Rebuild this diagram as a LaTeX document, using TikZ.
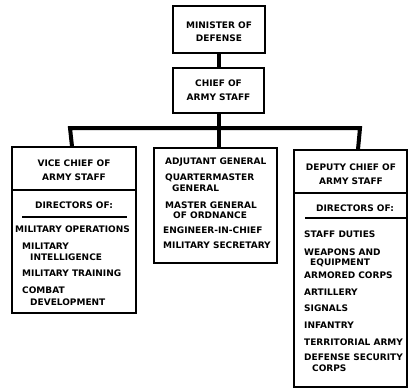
\documentclass[tikz,border=0pt]{standalone}
\usepackage{fontspec}
\setmainfont{DejaVu Sans}
\begin{document}
\begin{tikzpicture}[x=1pt,y=-1pt,
  box/.style={draw=black,line width=1.2pt,rectangle,inner sep=0pt},
  conn/.style={draw=black,line width=4pt},
  rule/.style={draw=black,line width=1.1pt},
  lbl/.style={font=\bfseries\fontsize{9}{10}\selectfont,inner sep=0pt,text=black},
  cl/.style={lbl,anchor=center},
  ll/.style={lbl,anchor=west}]
\useasboundingbox (0,0) rectangle (409,388);
% boxes
\node[box,minimum width=92pt,minimum height=47pt] (minister) at (219,29.5) {};
\node[box,minimum width=91pt,minimum height=45pt] (chief) at (218.5,90.5) {};
\node[box,minimum width=124pt,minimum height=166pt] (left) at (74,230) {};
\node[box,minimum width=123pt,minimum height=115pt] (mid) at (215.5,205.5) {};
\node[box,minimum width=113pt,minimum height=237pt] (right) at (350.5,268.5) {};
% connectors
\coordinate (barL) at (72,128);
\coordinate (barR) at (358,128);
\draw[conn] (minister.south) -- (minister.south |- chief.north);
\draw[conn] (chief.south) -- (chief.south |- mid.north);
\draw[conn] (left.north -| barL) -- ([xshift=-2pt]barL) -- ([xshift=2pt]barR) -- (right.north -| barR);
% dividers
\draw[box] (left.west |- 0,190) -- (left.east |- 0,190);
\draw[box] (right.west |- 0,193) -- (right.east |- 0,193);
\draw[rule] (22,217) -- (127,217);
\draw[rule] (305,218) -- (right.east |- 0,218);
% top texts
\node[cl] (t1) at (219,25) {MINISTER OF};
\node[cl] (t2) at (219,38) {DEFENSE};
\node[cl] (t3) at (218.5,83) {CHIEF OF};
\node[cl] (t4) at (218.5,97) {ARMY STAFF};
% left box texts
\node[cl] (l1) at (74,163) {VICE CHIEF OF};
\node[cl] (l2) at (74,177) {ARMY STAFF};
\node[cl] (l3) at (74,205) {DIRECTORS OF:};
\node[ll] (l4) at (15,229) {MILITARY OPERATIONS};
\node[ll] (l5) at (22,246) {MILITARY};
\node[ll] (l6) at (30,257) {INTELLIGENCE};
\node[ll] (l7) at (22,273) {MILITARY TRAINING};
\node[ll] (l8) at (22,290) {COMBAT};
\node[ll] (l9) at (30,302) {DEVELOPMENT};
% middle box texts
\node[ll] (m1) at (165,162) {ADJUTANT GENERAL};
\node[ll] (m2) at (165,178) {QUARTERMASTER};
\node[ll] (m3) at (172,188) {GENERAL};
\node[ll] (m4) at (165,205) {MASTER GENERAL};
\node[ll] (m5) at (173,215) {OF ORDNANCE};
\node[ll] (m6) at (163,230) {ENGINEER-IN-CHIEF};
\node[ll] (m7) at (163,245) {MILITARY SECRETARY};
% right box texts
\node[cl] (r1) at (351,167) {DEPUTY CHIEF OF};
\node[cl] (r2) at (351,181) {ARMY STAFF};
\node[cl] (r3) at (355,208) {DIRECTORS OF:};
\node[ll] (r4) at (304,234) {STAFF DUTIES};
\node[ll] (r5) at (304,252) {WEAPONS AND};
\node[ll] (r6) at (310,263) {EQUIPMENT};
\node[ll] (r7) at (304,275) {ARMORED CORPS};
\node[ll] (r8) at (304,292) {ARTILLERY};
\node[ll] (r9) at (304,308) {SIGNALS};
\node[ll] (r10) at (304,325) {INFANTRY};
\node[ll] (r11) at (304,342) {TERRITORIAL ARMY};
\node[ll] (r12) at (304,357) {DEFENSE SECURITY};
\node[ll] (r13) at (312,368) {CORPS};
\end{tikzpicture}
\end{document}
